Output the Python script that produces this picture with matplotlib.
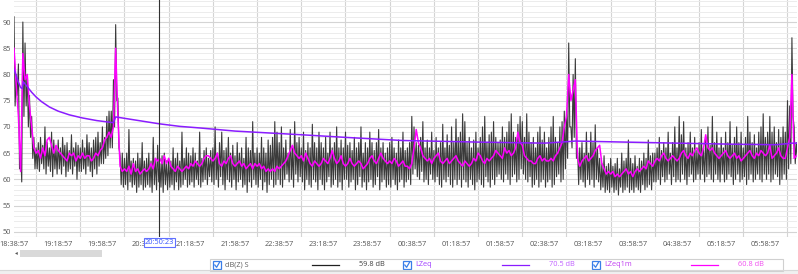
import matplotlib
matplotlib.use("Agg")
import matplotlib.pyplot as plt
from matplotlib.patches import Rectangle
from matplotlib.lines import Line2D
import numpy as np

# ---------------- data ----------------
# dB(Z) S: per 2-minute window, the high reading (even minute) and low reading (odd minute)
dbz_hi = [
    91, 80, 82, 66, 90, 86, 80, 76, 72, 68,
    66, 67, 68, 66.5, 70, 67, 66, 69, 67.5, 66,
    67.5, 66, 68, 66.5, 67, 65.5, 68.5, 66, 67, 66.5,
    66, 67.5, 66, 68.5, 67, 66, 67.5, 68, 69, 67,
    70, 68, 72, 73, 73, 79, 89.5, 75.5, 64.5, 65,
    64, 65, 69.5, 63.5, 64, 63.5, 65, 64, 67, 63.5,
    64, 65, 63.5, 68, 64, 66.5, 63, 64.5, 65, 63.5,
    64, 63.5, 66, 64, 65, 63.5, 69, 64, 66, 65,
    64.5, 66, 65, 63.5, 69, 64, 65.5, 66, 64, 65.5,
    66, 70, 65, 67, 69, 65.5, 66, 68, 65, 66.5,
    64.5, 67, 65, 66, 64, 68, 66, 65.5, 71, 65,
    66, 65, 68, 66, 65, 67.5, 66.5, 68, 71, 69,
    67, 70, 66, 67.5, 65, 69.5, 66, 71, 67, 68,
    66, 69, 65.5, 67, 66, 70.5, 67, 66, 69, 67,
    66, 68, 65, 69, 66, 67, 70, 66, 67.5, 66,
    69, 66.5, 67, 65.5, 68, 66, 67, 70, 65, 67,
    66, 69, 67, 65.5, 67, 69.5, 66, 67, 65, 66,
    67, 68, 66, 65, 67.5, 66, 69, 65.5, 66, 67,
    72, 70, 67, 66.5, 68, 71, 66, 67.5, 66, 69,
    65.5, 68, 66, 67, 70.5, 66, 68.5, 66.5, 70, 67,
    71.5, 68, 69, 72.5, 71, 67, 68, 66, 67.5, 69,
    66, 68, 70, 72, 67, 68.5, 69, 71, 68, 67,
    67.5, 70, 68, 69, 71, 72.5, 69, 68, 70.5, 72,
    71, 68, 72.5, 69, 67, 68, 66, 69, 70, 67.5,
    69, 66, 68, 70, 72, 68, 67, 70, 71, 73,
    73, 86, 70, 80, 83, 66, 66, 67, 65, 69,
    65, 69, 67, 70.4, 66, 64, 63, 64.5, 62.5, 63,
    64, 62.5, 63, 64, 62, 65, 63.5, 64, 67.5, 64,
    63, 64.5, 62.5, 64, 63.5, 65, 64, 67.5, 64.5, 65,
    65, 66, 68, 65.5, 67, 66, 69, 65, 67, 70,
    66, 72, 68.5, 71, 66, 67, 69, 66, 68, 65.5,
    67, 69.5, 66, 68, 70, 66.5, 72, 67, 69, 66,
    68, 66, 69, 67, 71, 66.5, 68, 70, 67, 69,
    66, 68, 72, 69, 67, 68.5, 66, 69, 70, 72.5,
    68, 69, 72, 69, 70, 67, 69.5, 68, 70, 69,
    75, 74, 87, 70, 67,
]
dbz_lo = [
    74, 76, 62, 59.5, 72, 74, 70, 68, 64, 62,
    62, 61.5, 63, 62, 61, 62.5, 61.5, 60.5, 62, 61,
    62, 61, 62.5, 60.5, 61.5, 62, 61, 62.5, 60, 61.5,
    61.5, 62, 61, 62.5, 61.5, 60.5, 62, 61, 62.5, 63,
    63, 64, 64.5, 66, 66, 70, 75, 66, 59, 58.5,
    59, 58, 59.5, 58.5, 59, 57.5, 58.5, 59, 58, 58.5,
    59, 58.5, 57.5, 59, 58, 59.5, 58.5, 57.5, 59, 58,
    58.5, 59, 58, 59.5, 58, 58.5, 59, 60, 58.5, 59,
    59.5, 58.5, 60, 59, 58.5, 59.5, 60, 59, 60.5, 59.5,
    59, 60, 58.5, 60.5, 59, 58, 60, 59.5, 58.5, 60,
    58, 59.5, 60, 58.5, 59, 57.5, 59.5, 58.5, 60, 59,
    58.5, 60, 58, 59.5, 57.5, 59, 60, 58.5, 59, 60,
    59, 58.5, 60, 61, 59.5, 60, 58.5, 61, 59.5, 60.5,
    59.5, 58, 60, 59, 58.5, 60, 59.5, 58, 60, 59,
    58, 59.5, 60.5, 58.5, 59, 60, 58.5, 59.5, 58, 60,
    60, 58.5, 59.5, 60, 58, 59, 60.5, 58.5, 59.5, 58,
    59.5, 60, 58.5, 59, 60.5, 58, 59.5, 60, 58.5, 59,
    58.5, 60, 59, 58, 59.5, 60, 58.5, 59.5, 60, 59,
    61, 62, 60.5, 60, 61.5, 59.5, 60, 59, 61, 60,
    59.5, 60.5, 59, 58.5, 60, 59.5, 60.5, 59, 58.5, 60,
    59, 60, 58.5, 60, 59.5, 58.5, 60, 59, 58, 59.5,
    60, 59, 58.5, 60.5, 59.5, 58.5, 60, 59, 60.5, 61,
    60, 59.5, 61, 60, 59, 60.5, 61, 59.5, 60, 62,
    61, 60, 59.5, 60.5, 58.5, 59, 60, 58.5, 59.5, 60,
    58.5, 59.5, 60, 58.5, 59, 60.5, 61, 59.5, 60, 62,
    64, 70, 66, 68, 64, 59, 60, 59.5, 58.5, 60,
    59, 60, 58.5, 60, 59.5, 58, 58.5, 57.5, 58, 57.5,
    58.5, 57.5, 58, 57, 58.5, 57.5, 58, 58.5, 57.5, 58,
    57.5, 58.5, 58, 57.5, 59, 58, 58.5, 59, 58, 59.5,
    59.5, 60, 59, 60.5, 59.5, 60, 61, 59, 60.5, 59.5,
    60, 59.5, 61, 60, 59, 60.5, 61, 59.5, 60, 61,
    60, 61, 59.5, 60.5, 61, 60, 59.5, 61, 60, 59.5,
    61, 59.5, 60, 61, 60.5, 59, 60, 61, 59.5, 60,
    60.5, 59, 60, 61, 59.5, 60, 61, 60, 59.5, 61,
    60, 61, 59.5, 60, 61, 60.5, 59, 60, 61, 60,
    62, 63, 72, 63, 64,
]

# LZeq1m, one value every 2 minutes
lzeq1m = [
    85, 78, 72, 61.5, 84, 79, 80, 74, 70, 66,
    65, 65.5, 64, 66, 64.5, 67.5, 68, 66.5, 65, 66.5,
    65.5, 65, 64.5, 64, 63.5, 65, 64.5, 65, 63.5, 64.5,
    64, 65, 64, 64.5, 64.5, 63.5, 64, 65, 64.5, 65.5,
    66, 67.5, 68, 69, 68, 70, 85, 72, 62.5, 61.5,
    62, 61.5, 62.5, 61, 63, 61.5, 62, 61, 61.5, 62,
    61.5, 62, 63, 62, 64, 63.5, 64, 63, 64.5, 63,
    64, 62.5, 62, 61.5, 62.5, 62, 61.5, 62, 62.5, 62,
    63, 62.5, 63.5, 63, 62.5, 63, 64, 64.5, 64.5, 64,
    63.5, 64, 65, 63, 62.5, 63.5, 63, 64, 64.5, 63,
    62.5, 63, 63.5, 62.5, 63, 62, 62.5, 63, 62, 63,
    62.5, 63, 62, 62.5, 61.5, 62, 61.5, 62, 61.5, 62.5,
    62, 62.5, 63, 63.5, 64.5, 65.5, 66.5, 65, 64.5, 64,
    64.5, 63.5, 65, 64, 63, 62.5, 63.5, 63, 62.5, 63,
    64, 63.5, 63, 64, 65.5, 64, 63, 63.5, 64.5, 63,
    62.5, 63, 64, 63, 62.5, 63, 63.5, 63, 62, 62.5,
    63, 64, 64.5, 63.5, 63, 64, 65, 64, 63.5, 63,
    63.5, 63, 64, 63.5, 62.5, 63, 63.5, 62.5, 62.5, 62,
    63, 66, 69.5, 67, 66, 64.5, 64, 63.5, 64, 63,
    64, 64.5, 65, 63.5, 63, 63.5, 64, 63, 63.5, 64,
    64.5, 63.5, 63, 62.5, 63.5, 63, 62.5, 63, 64, 63.5,
    65, 64.5, 63.5, 63, 64, 63.5, 64, 64.5, 65.5, 65,
    64.5, 64, 66, 65, 65.5, 64.5, 65, 66, 69, 67,
    66.5, 64.5, 64, 63.5, 63.5, 63, 63, 64, 64.5, 63.5,
    64, 63.5, 63.5, 64, 63.5, 64.5, 65, 66, 67, 70,
    72, 80, 75, 77, 79, 64, 62.5, 63.5, 64, 64.5,
    63.5, 64, 64.5, 65.5, 66, 66.5, 63, 62, 61, 61.5,
    61, 61.5, 60.5, 61, 60.5, 61, 61.5, 62, 61, 61.5,
    60.5, 61.5, 62, 61.5, 62, 62.5, 62, 63.5, 63, 62.5,
    63.5, 64, 63.5, 64.5, 65, 64, 63.5, 64, 64.5, 64,
    63.5, 64, 65, 65.5, 64.5, 64, 65, 64.5, 65.5, 66,
    65, 64.5, 66, 68.5, 66, 65.5, 66, 65, 64.5, 64,
    64.5, 65, 65.5, 64.5, 64, 64.5, 65, 64, 64.5, 63.5,
    64, 64.5, 65, 65.5, 64.5, 64, 65, 64.5, 65.5, 65,
    64.5, 65, 66.5, 64, 64.5, 65, 66, 64.5, 64, 64,
    66, 68, 80, 64, 64.5,
]

# LZeq (running average), minutes after start and value
lzeq_t = [0, 2, 4, 6, 7.5, 8.5, 10, 13, 16, 20, 25, 32, 40, 50, 62, 75, 90, 92,
          110, 131, 150, 168, 200, 260, 300, 352, 420, 480, 502, 508, 530, 600,
          650, 690, 704, 708.6]
lzeq = [81, 79.8, 78.5, 77.5, 77.3, 78.6, 78.2, 77.4, 76.6, 75.7, 74.8, 73.8,
        73.0, 72.3, 71.7, 71.2, 70.8, 71.9, 71.3, 70.6, 70.1, 69.8, 69.2, 68.5,
        68.0, 67.4, 67.1, 66.9, 67.2, 67.3, 67.2, 66.9, 66.7, 66.6, 66.9, 66.9]

tick_labels = ["18:38:57", "19:18:57", "19:58:57", "20:38:57", "21:18:57",
               "21:58:57", "22:38:57", "23:18:57", "23:58:57", "00:38:57",
               "01:18:57", "01:58:57", "02:38:57", "03:18:57", "03:58:57",
               "04:38:57", "05:18:57", "05:58:57"]
tick_step_min = 40
y_ticks = [50, 55, 60, 65, 70, 75, 80, 85, 90]
cursor_min = 131.43
cursor_label = "20:50:23"
legend_names = ["dB(Z) S", "LZeq", "LZeq1m"]
legend_values = ["59.8 dB", "70.5 dB", "60.8 dB"]

# ---------------- figure ----------------
W, H = 798, 274
fig = plt.figure(figsize=(W / 100, H / 100), dpi=100)
fig.patch.set_facecolor("white")

def fx(p):
    return p / W

def fy(p):
    return 1 - p / H

ax_l, ax_r, ax_t, ax_b = 14, 797, 0, 237
ax = fig.add_axes([fx(ax_l), fy(ax_b), fx(ax_r - ax_l), (ax_b - ax_t) / H])

n = len(dbz_hi)
t_g = np.empty(2 * n)
t_g[0::2] = np.arange(n) * 2.0
t_g[1::2] = np.arange(n) * 2.0 + 1.0
v_g = np.empty(2 * n)
v_g[0::2] = dbz_hi
v_g[1::2] = dbz_lo
t_m = np.arange(len(lzeq1m)) * 2.0

ax.plot(t_g, v_g, color="#3a3a3a", lw=0.8, zorder=3)
ax.plot(t_m, lzeq1m, color="#ff00ff", lw=1.1, zorder=4)
ax.plot(lzeq_t, lzeq, color="#8a1cff", lw=1.1, zorder=5)

ax.set_xlim(0, 708.6)
ax.set_ylim(49.05, 94.2)

xt = np.arange(len(tick_labels)) * tick_step_min
ax.set_xticks(xt)
ax.set_xticklabels(tick_labels)
ax.set_xticks(np.arange(0, 709, 20), minor=True)
ax.set_yticks(y_ticks)
ax.set_yticks(np.arange(49, 95, 1), minor=True)

ax.grid(True, which="minor", axis="y", color="#ececec", lw=0.7, zorder=0)
ax.grid(True, which="major", axis="y", color="#d4d4d4", lw=0.8, zorder=1)
ax.grid(True, which="minor", axis="x", color="#d4d4d4", lw=0.8, zorder=1)
ax.set_axisbelow(True)

ax.tick_params(axis="both", which="both", length=0, labelsize=5.3, labelcolor="#555555")
ax.tick_params(axis="x", pad=3)
ax.tick_params(axis="y", pad=2)
for lab in ax.get_xticklabels() + ax.get_yticklabels():
    lab.set_fontfamily("Open Sans")
for s in ax.spines.values():
    s.set_visible(False)
ax.axhline(ax.get_ylim()[0], color="#d4d4d4", lw=0.8)

# cursor
ax.axvline(cursor_min, color="#303030", lw=0.8, zorder=6)
fig.text(fx(159.5), fy(242.5), cursor_label, fontsize=5.3, family="Open Sans",
         color="#3050ff", ha="center", va="center", zorder=10,
         bbox=dict(boxstyle="square,pad=0.15", fc="white", ec="#6070ff", lw=0.8))

# scrollbar
fig.text(fx(16), fy(253), "◂", fontsize=4, color="#555555", ha="center", va="center")
fig.add_artist(Rectangle((fx(20), fy(257)), fx(82), 7 / H, transform=fig.transFigure,
                         fc="#d9d9d9", ec="none"))

# bottom strip and legend box
fig.add_artist(Rectangle((0, 0), 1, 4 / H, transform=fig.transFigure, fc="#f0f0f0", ec="none"))
fig.add_artist(Line2D([0, 1], [fy(270), fy(270)], transform=fig.transFigure, color="#d8d8d8", lw=0.8))
fig.add_artist(Rectangle((fx(210), fy(271)), fx(573), 12 / H, transform=fig.transFigure,
                         fc="white", ec="#d0d0d0", lw=0.8))

line_colors = ["#202020", "#8a1cff", "#ff00ff"]
name_colors = ["#606060", "#a040ff", "#c040f0"]
value_colors = ["#404040", "#c060ff", "#f050f0"]
x_off = [0, 190, 379]
ly = 265
for i in range(3):
    x0 = 213 + x_off[i]
    fig.add_artist(Rectangle((fx(x0), fy(269)), fx(8), 8 / H, transform=fig.transFigure,
                             fc="white", ec="#3a7ee8", lw=0.9))
    fig.add_artist(Line2D([fx(x0 + 1.8), fx(x0 + 3.6), fx(x0 + 6.5)],
                          [fy(265), fy(267.3), fy(262.3)], transform=fig.transFigure,
                          color="#3a7ee8", lw=0.9))
    fig.text(fx(x0 + 12), fy(ly), legend_names[i], fontsize=5.3, family="Open Sans",
             color=name_colors[i], ha="left", va="center")
    fig.add_artist(Line2D([fx(x0 + 99), fx(x0 + 126)], [fy(ly), fy(ly)],
                          transform=fig.transFigure, color=line_colors[i], lw=0.9))
    fig.text(fx(x0 + 172), fy(ly), legend_values[i], fontsize=5.3, family="Open Sans",
             color=value_colors[i], ha="right", va="center")

fig.savefig("out.png", dpi=100)
